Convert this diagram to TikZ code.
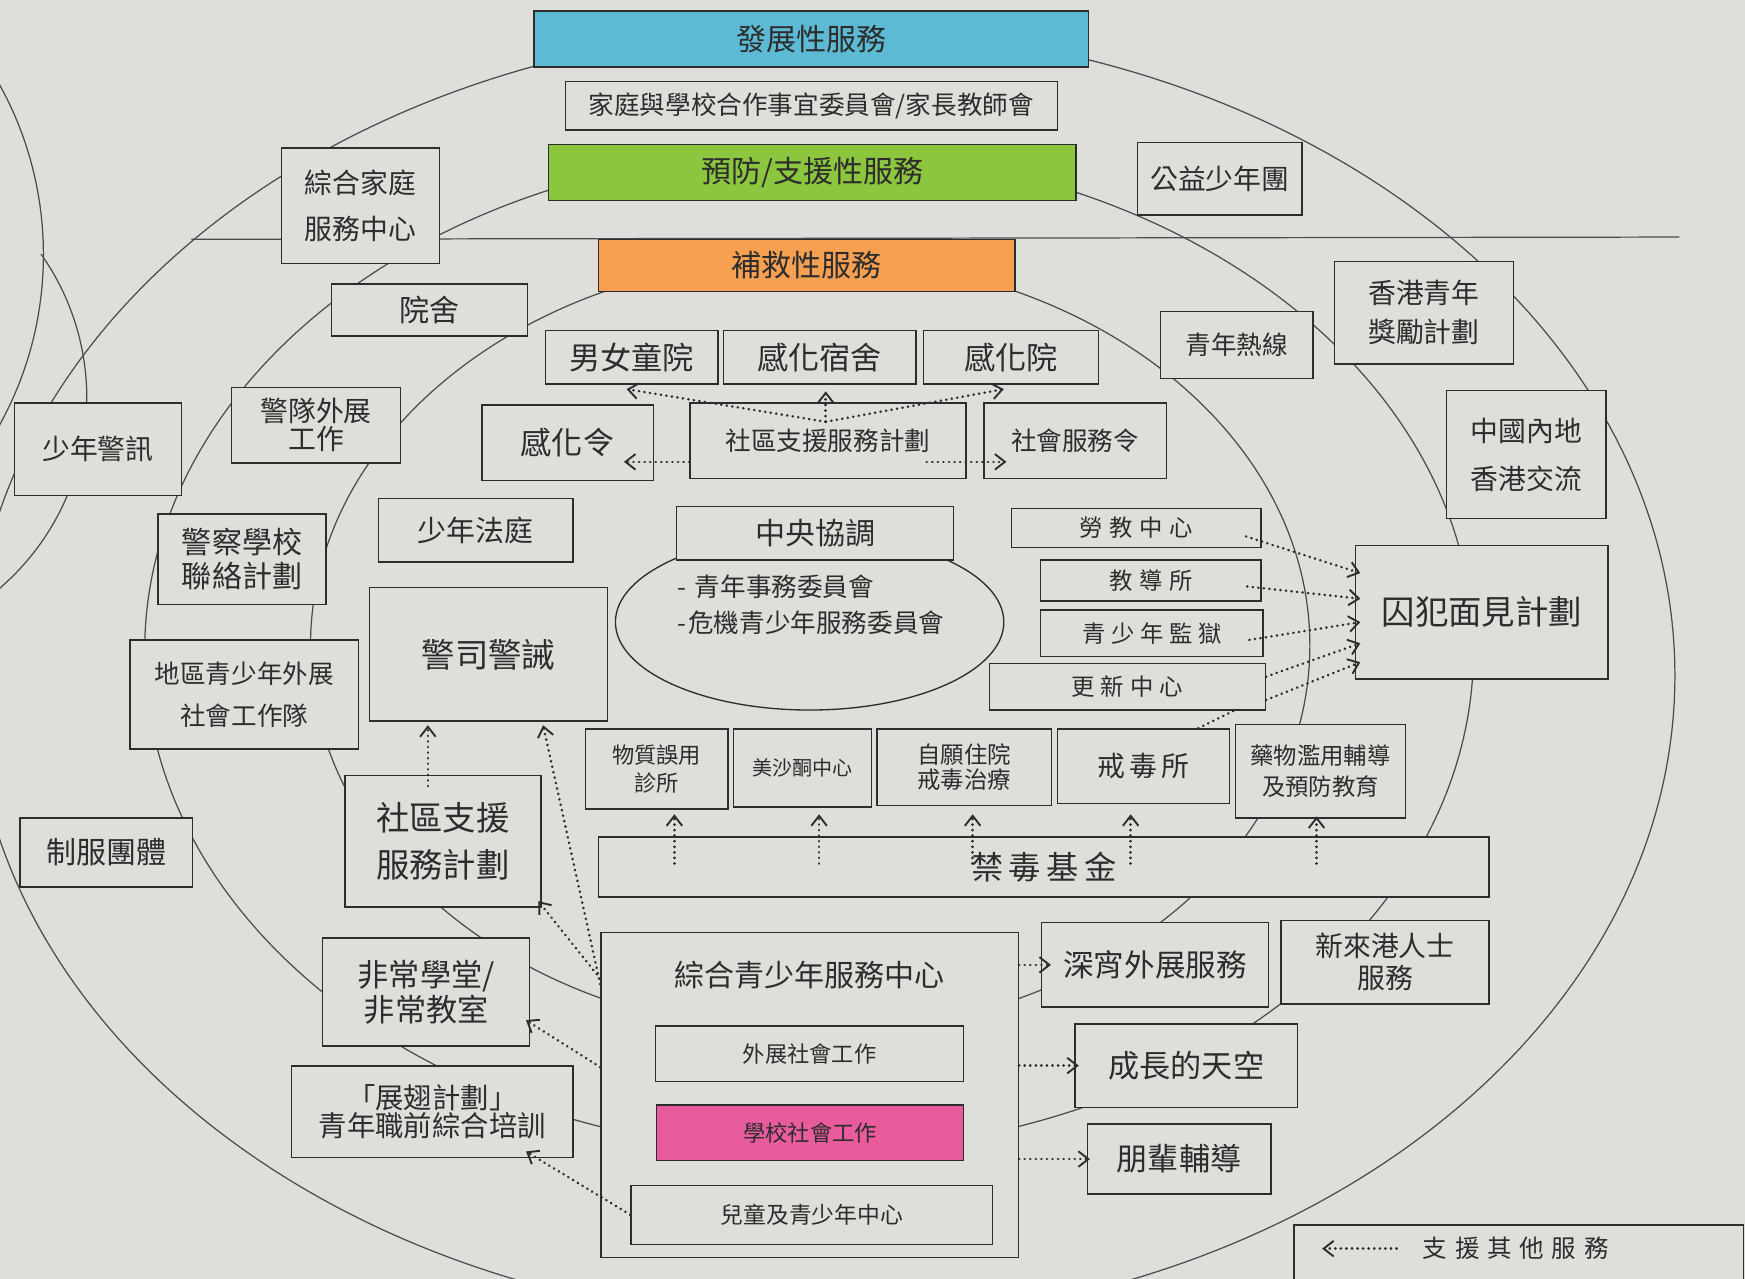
\documentclass[tikz,border=0pt]{standalone}
\usepackage{fontspec}
\setmainfont{Noto Sans CJK TC}
\usetikzlibrary{arrows.meta,calc,shapes.geometric}
\definecolor{paper}{RGB}{222,222,218}
\definecolor{ink}{RGB}{45,45,45}
\definecolor{ringc}{RGB}{75,75,78}
\definecolor{hlblue}{RGB}{92,186,212}
\definecolor{hlgreen}{RGB}{140,198,62}
\definecolor{hlorange}{RGB}{248,160,82}
\definecolor{hlpink}{RGB}{232,92,158}
\newcommand\fsz[2]{\fontsize{#1pt}{#2pt}\selectfont}
\newcommand\gsp[1]{\hspace{#1pt}}
\begin{document}
\begin{tikzpicture}[x=1pt,y=-1pt,
  box/.style={draw=ink, fill=paper, line width=1.3pt, inner sep=0pt, align=center, text=ink},
  wh/.style 2 args={minimum width=#1pt, minimum height=#2pt},
  ring/.style={draw=ringc, line width=1.1pt},
  supl/.style={draw=ink, line width=2.4pt, dash pattern=on 0.2pt off 4.8pt, line cap=round},
  sup/.style={supl, -{Straight Barb[length=9pt,width=14pt,line width=1.7pt]}},
]
\useasboundingbox (0,0) rectangle (1568,1149);
\clip (0,0) rectangle (1568,1149);
\fill[paper] (0,0) rectangle (1568,1149);

% rings
\draw[ring] (740,607) ellipse [x radius=765pt, y radius=582pt];
\draw[ring] (727,585) ellipse [x radius=597pt, y radius=450pt];
\draw[ring] (728,580) ellipse [x radius=449pt, y radius=349pt];
\draw[ring] (-277,229) circle [radius=316pt];
\begin{scope}
  \clip (-10,229) rectangle (400,1149);
  \draw[ring] (-147,358) circle [radius=225pt];
\end{scope}
\coordinate (hlL) at (172,215);
\coordinate (hlR) at (1509,213);
\draw[ring] (hlL) -- (hlR);

% top bands
\node[box, fill=hlblue, wh={498}{50}, font=\fsz{27}{32}] (dev) at (729,35) {發展性服務};
\node[box, wh={442}{44}, font=\fsz{23}{26}] (fam) at (729,95) {家庭與學校合作事宜委員會/家長教師會};
\node[box, fill=hlgreen, wh={474}{50}, font=\fsz{27}{32}] (prev) at (730,155) {預防/支援性服務};
\node[box, fill=hlorange, wh={374}{47}, font=\fsz{27}{32}] (remed) at (725,238.5) {補救性服務};

% outer boxes
\node[box, wh={142}{104}, font=\fsz{25}{42}] (ifsc) at (324,185) {綜合家庭\\服務中心};
\node[box, wh={148}{65}, font=\fsz{25}{30}] (kungyik) at (1096,160.5) {公益少年團};
\node[box, wh={176}{47}, font=\fsz{27}{30}] (yuen) at (386,278.5) {院舍};
\node[box, wh={137}{60}, font=\fsz{23}{28}] (hotline) at (1111.5,310) {青年熱線};
\node[box, wh={161}{92}, font=\fsz{25}{35}] (award) at (1279.5,281) {香港青年\\獎勵計劃};
\node[box, wh={155}{48}, font=\fsz{28}{32}] (bg) at (567.5,321) {男女童院};
\node[box, wh={173}{48}, font=\fsz{28}{32}] (hostel) at (736.5,321) {感化宿舍};
\node[box, wh={157}{48}, font=\fsz{28}{32}] (reform) at (908.5,321) {感化院};
\node[box, wh={152}{68}, font=\fsz{25}{25}] (police) at (284,382) {警隊外展\\工作};
\node[box, wh={150}{83}, font=\fsz{25}{30}] (jpc) at (88,403.5) {少年警訊};
\node[box, wh={154}{68}, font=\fsz{28}{32}] (probo) at (510,398) {感化令};
\node[box, wh={248}{68}, font=\fsz{23}{28}] (css) at (744,396) {社區支援服務計劃};
\node[box, wh={164}{68}, font=\fsz{23}{28}] (cso) at (966,396) {社會服務令};
\node[box, wh={143}{115}, font=\fsz{25}{43}] (mainland) at (1371.5,408.5) {中國內地\\香港交流};
\node[box, wh={175}{57}, font=\fsz{26}{30}] (court) at (427.5,476.5) {少年法庭};
\node[box, wh={151}{81}, font=\fsz{27}{30}] (psl) at (217.5,502.5) {警察學校\\聯絡計劃};

% central coordination
\node[draw=ink, fill=paper, line width=1.2pt, ellipse, inner sep=0pt, wh={349}{158}] (comm) at (727.5,559) {};
\node[box, wh={249}{48}, font=\fsz{27}{32}] (central) at (732.5,479) {中央協調};
\node[anchor=west, align=left, text=ink, font=\fsz{23}{33}] (commtxt) at (605,543.5) {-\gsp{8}青年事務委員會\\-\gsp{2}危機青少年服務委員會};

% correctional
\node[box, wh={224}{35}, font=\fsz{21}{25}] (rtc) at (1021,474.5) {勞\gsp{6}教\gsp{6}中\gsp{6}心};
\node[box, wh={198}{37}, font=\fsz{21}{25}] (tc) at (1034,521.5) {教\gsp{6}導\gsp{6}所};
\node[box, wh={200}{42}, font=\fsz{21}{25}] (yp) at (1035,569) {青\gsp{5}少\gsp{5}年\gsp{5}監\gsp{5}獄};
\node[box, wh={248}{42}, font=\fsz{21}{25}] (rc) at (1013,617) {更\gsp{5.5}新\gsp{5.5}中\gsp{5.5}心};
\node[box, wh={227}{120}, font=\fsz{30}{34}] (visit) at (1331.5,550) {囚犯面見計劃};

\node[box, wh={214}{120}, font=\fsz{30}{34}] (caution) at (439,588) {警司警誡};
\node[box, wh={205}{98}, font=\fsz{23}{38}] (dyo) at (219.5,624) {地區青少年外展\\社會工作隊};

% drug services
\node[box, wh={128}{72}, font=\fsz{20}{25}] (sac) at (590,691) {物質誤用\\診所};
\node[box, wh={124}{70}, font=\fsz{18}{22}] (mmc) at (721,690) {美沙酮中心};
\node[box, wh={157}{69}, font=\fsz{21}{22}] (vol) at (866.5,689.5) {自願住院\\戒毒治療};
\node[box, wh={155}{67}, font=\fsz{25}{30}] (drc) at (1027.5,688.5) {戒\gsp{4}毒\gsp{4}所};
\node[box, wh={153}{84}, font=\fsz{21}{28}] (dae) at (1186.5,693) {藥物濫用輔導\\及預防教育};
\node[box, wh={800}{54}, font=\fsz{29}{32}] (bdf) at (938,779) {禁\gsp{5}毒\gsp{5}基\gsp{5}金};

\node[box, wh={176}{118}, font=\fsz{30}{42}] (cssb) at (398,756) {社區支援\\服務計劃};
\node[box, wh={155}{62}, font=\fsz{27}{30}] (uni) at (95.5,766) {制服團體};

% integrated youth service centre
\node[box, wh={375}{292}] (iysc) at (727.5,984) {};
\node[text=ink, font=\fsz{27}{30}] (iysct) at (727.5,876) {綜合青少年服務中心};
\node[box, wh={277}{50}, font=\fsz{20}{24}] (ow) at (727.5,947) {外展社會工作};
\node[box, fill=hlpink, wh={276}{50}, font=\fsz{20}{24}] (ssw) at (728,1018) {學校社會工作};
\node[box, wh={325}{53}, font=\fsz{20.5}{24}] (cyc) at (729.5,1091.5) {兒童及青少年中心};

\node[box, wh={204}{76}, font=\fsz{27.5}{30}] (ynot) at (1038,867) {深宵外展服務};
\node[box, wh={187}{75}, font=\fsz{25}{29}] (nas) at (1244.5,864.5) {新來港人士\\服務};
\node[box, wh={186}{97}, font=\fsz{28}{32}] (proj) at (383,891.5) {非常學堂/\\非常教室};
\node[box, wh={200}{75}, font=\fsz{28}{32}] (uplift) at (1066,957.5) {成長的天空};
\node[box, wh={253}{82}, font=\fsz{25.5}{25}] (yeti) at (388.5,999) {「展翅計劃」\\青年職前綜合培訓};
\node[box, wh={165}{63}, font=\fsz{28}{32}] (peer) at (1059.5,1041.5) {朋輩輔導};

% legend
\node[box, wh={404}{80}, anchor=north west] (legbox) at (1162,1100) {};
\node[text=ink, font=\fsz{22}{26}] (legtxt) at (1362,1122) {支\gsp{7}援\gsp{7}其\gsp{7}他\gsp{7}服\gsp{7}務};
\coordinate (legtip) at (1188,1122);
\draw[sup] ($(legtxt.west)+(-20,0)$) -- (legtip);

% connectors: community support (small)
\coordinate (cssrc) at (742,379);
\draw[sup] (cssrc) -- ($(bg.south)+(-4.5,4)$);
\draw[sup] (cssrc) -- ($(hostel.south)+(5.5,6)$);
\draw[sup] (cssrc) -- ($(reform.south)+(-6.5,4)$);
\draw[sup] ($(css.west)+(0,19)$) -- ($(probo.east)+(-27,17)$);
\draw[sup] ($(css.east)+(-36,19)$) -- ($(cso.west)+(21,19)$);

% connectors: prisoner visit
\draw[sup] ($(rtc.east)+(-14,7.5)$) -- ($(visit.west)+(5,-35)$);
\draw[sup] ($(tc.east)+(-13,5.5)$) -- ($(visit.west)+(5,-12)$);
\draw[sup] ($(yp.east)+(-13,6)$) -- ($(visit.west)+(5,9)$);
\draw[sup] ($(rc.east)+(0,-9)$) -- ($(visit.west)+(5,28)$);
\draw[supl] ($(drc.north east)+(-29,0)$) -- ($(rc.south east)+(-29,0)$);
\draw[sup] ($(rc.east)+(0,12)$) -- ($(visit.west)+(5,45)$);

% connectors: beat drugs fund
\draw[sup] ($(sac.south |- bdf.center)+(16,-3)$) -- ($(sac.south)+(16,4)$);
\draw[sup] ($(mmc.south |- bdf.center)+(15,-3)$) -- ($(mmc.south)+(15,6)$);
\draw[sup] ($(vol.south |- bdf.center)+(7.5,-3)$) -- ($(vol.south)+(7.5,7)$);
\draw[sup] ($(drc.south |- bdf.center)+(-11.5,-3)$) -- ($(drc.south)+(-11.5,9)$);
\draw[sup] ($(dae.south |- bdf.center)+(-3.5,-3)$) -- ($(dae.south)+(-3.5,-2)$);

% connectors: caution, IYSC
\draw[sup] ($(cssb.north)+(-13.5,10)$) -- ($(caution.south)+(-54.5,3)$);
\draw[sup] ($(iysc.north west)+(0,47)$) -- ($(caution.south)+(49,3)$);
\draw[sup] ($(iysc.north west)+(0,42)$) -- ($(cssb.south east)+(-3,-6)$);
\draw[sup] ($(iysc.west)+(0,-25)$) -- ($(proj.south east)+(-4,-24)$);
\draw[sup] (cyc.west) -- ($(yeti.south east)+(-43,-6)$);
\draw[sup] (iysc.east |- ynot.west) -- ($(ynot.west)+(9,0)$);
\draw[sup] (iysc.east |- uplift.west) -- ($(uplift.west)+(4,0)$);
\draw[sup] (iysc.east |- peer.west) -- ($(peer.west)+(3,0)$);
\end{tikzpicture}
\end{document}
